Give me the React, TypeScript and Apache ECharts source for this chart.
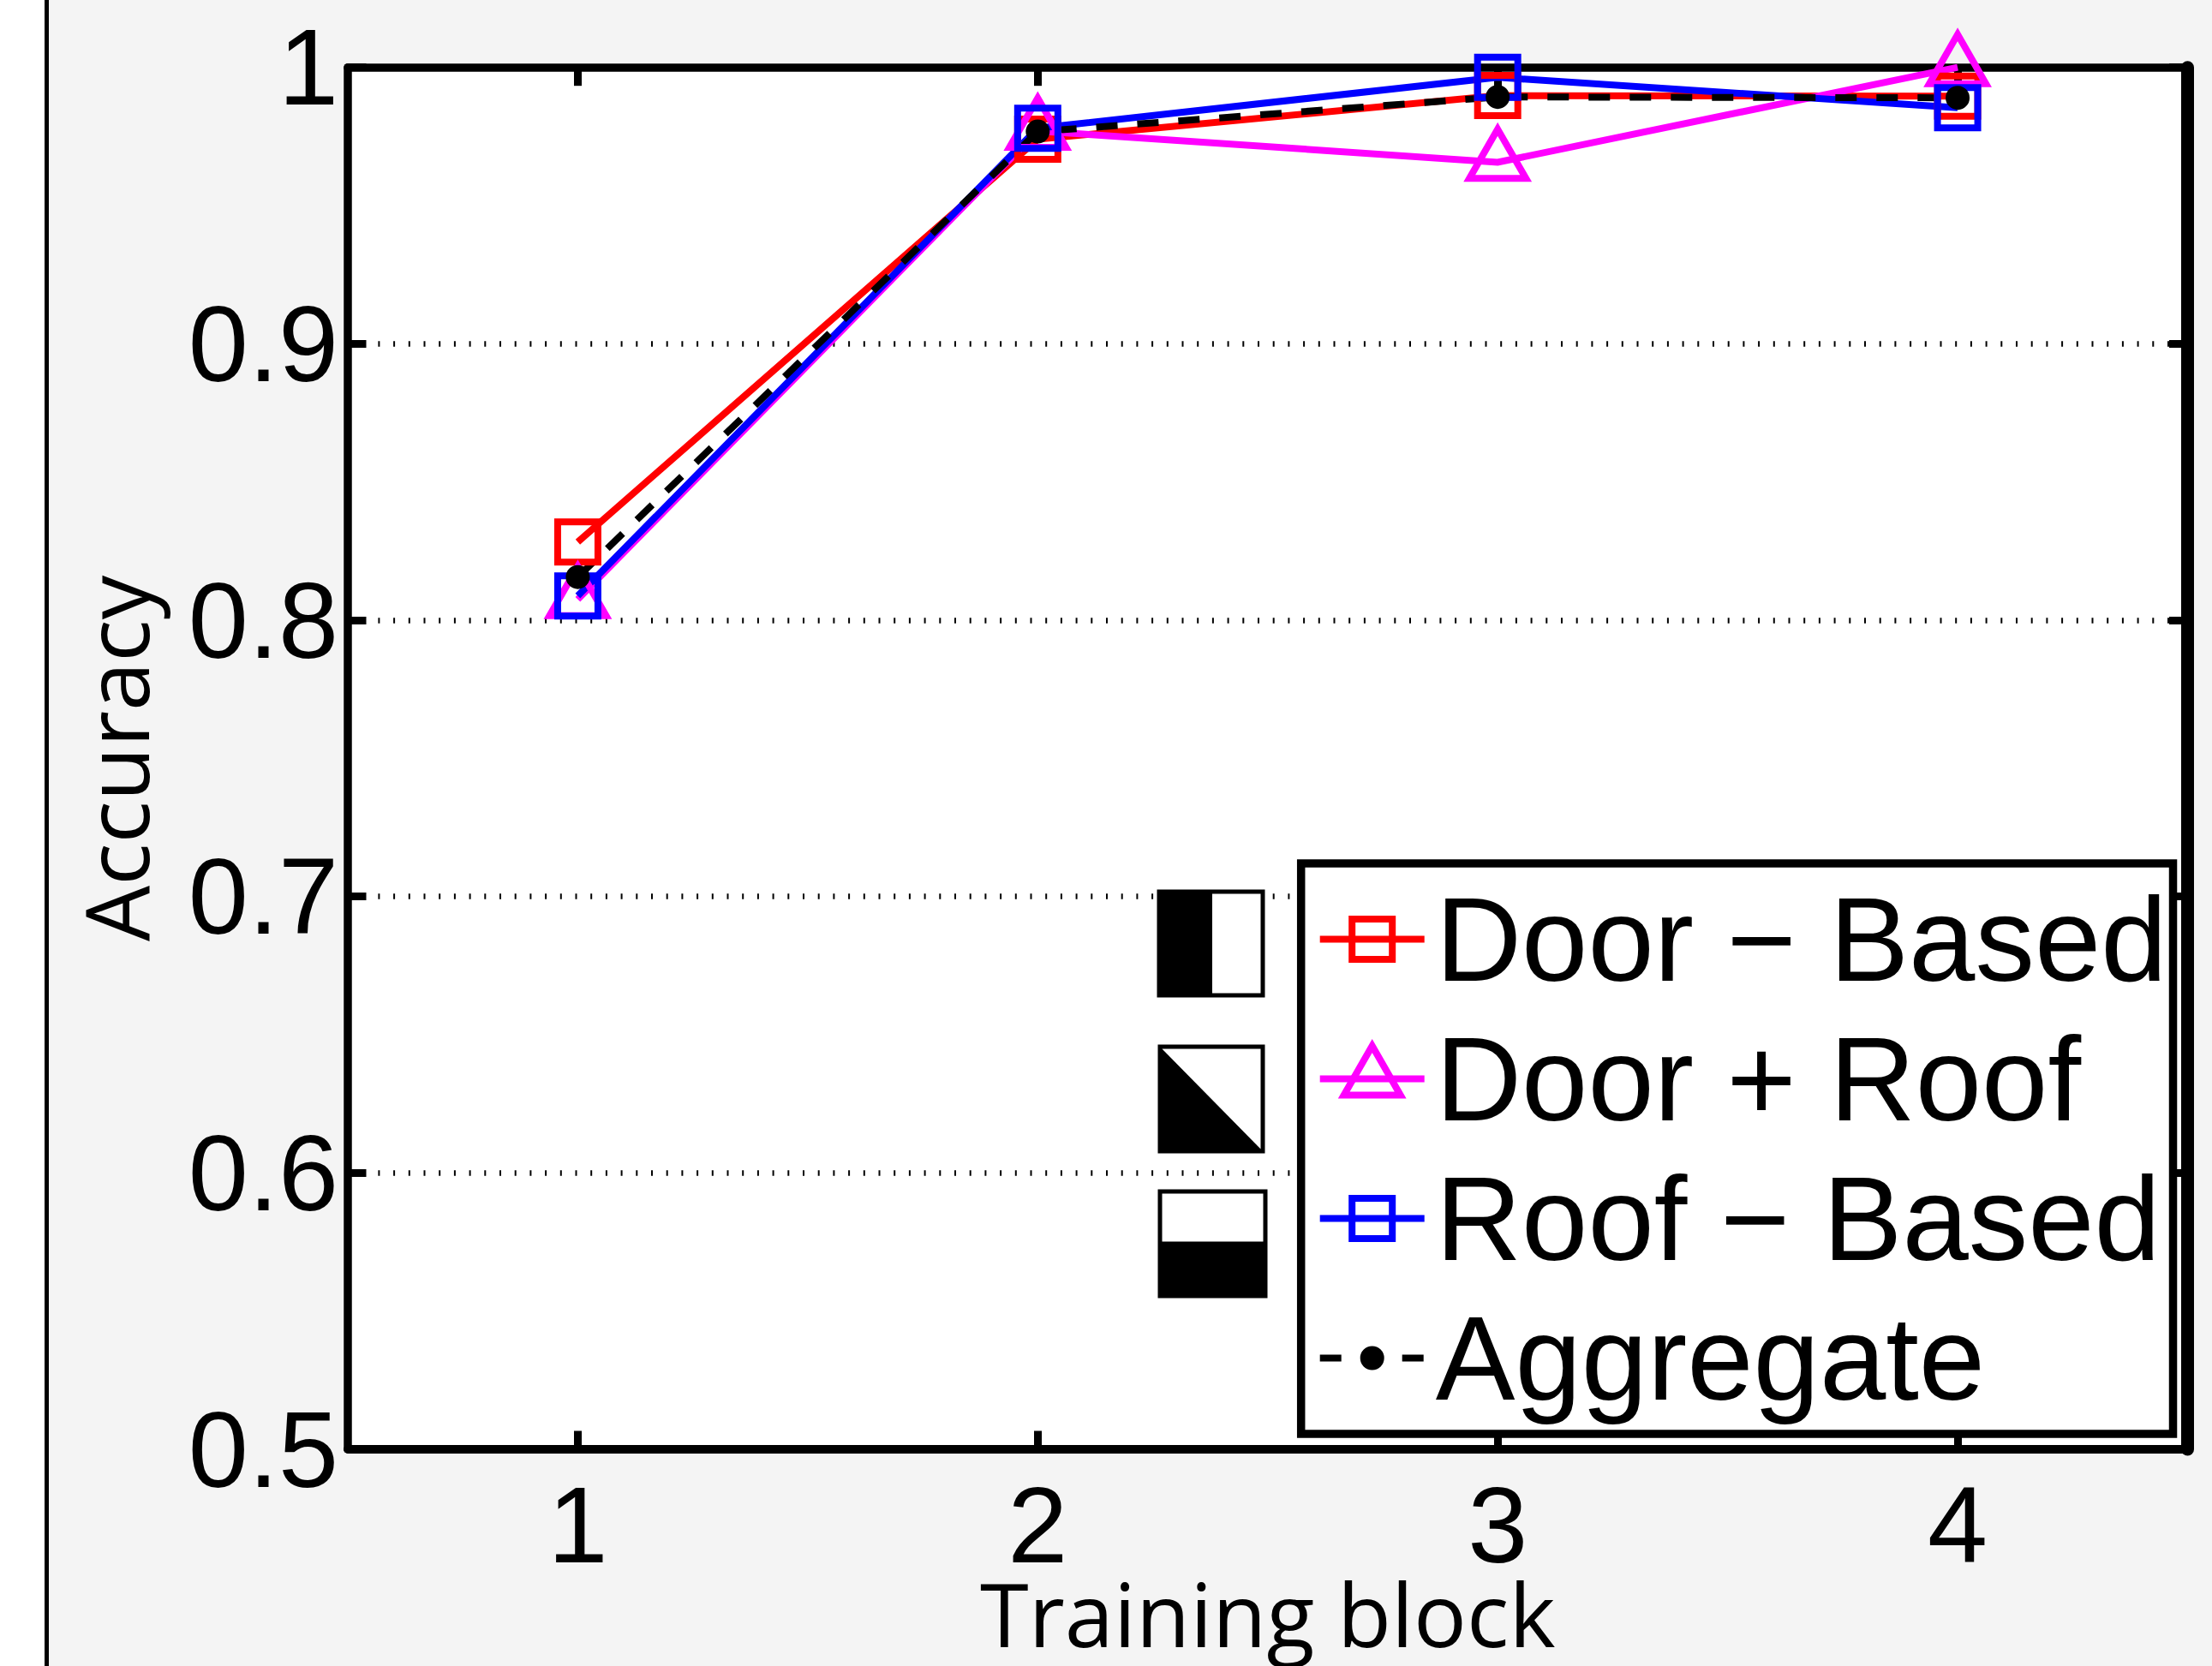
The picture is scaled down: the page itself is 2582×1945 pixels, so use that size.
import React, { useEffect, useRef } from "react";
import * as echarts from "echarts";

const blocks = ["1", "2", "3", "4"];
const doorBased = [0.8283, 0.974, 0.9898, 0.9896];
const doorRoof = [0.8075, 0.977, 0.9657, 1.0];
const roofBased = [0.8088, 0.978, 0.9964, 0.9854];
const aggregate = [0.8156, 0.9768, 0.9893, 0.989];
const seriesNames = ["Door − Based", "Door + Roof", "Roof − Based", "Aggregate"];

const SQUARE = "path://M0 0M80 80M16.5 16.5H63.5V63.5H16.5Z";
const TRIANGLE = "path://M0 0M80 80M40 1.5L73 59H7Z";
const DOT = "path://M0 0M80 80M40 30A10 10 0 1 1 40 50A10 10 0 1 1 40 30Z";

const LEFT = 406;
const TOP = 78.7;
const RIGHT = 2553.5;
const BOTTOM = 1692;

function makeSeries(name: string, data: number[], color: string, symbol: string, fill: string, type: any) {
  return {
    name,
    type: "line",
    data,
    xAxisIndex: 0,
    yAxisIndex: 0,
    symbol,
    symbolSize: 80,
    showSymbol: true,
    showAllSymbol: true,
    clip: false,
    smooth: false,
    color,
    lineStyle: { color, width: 8, type, dashOffset: 0, join: "miter" },
    itemStyle: { color: fill, borderColor: color, borderWidth: 8, borderJoin: "miter", borderMiterLimit: 10, opacity: 1 },
    emphasis: { disabled: true },
  };
}

export default function App() {
  const ref = useRef<HTMLDivElement>(null);
  useEffect(() => {
    const chart = echarts.init(ref.current!, undefined, { renderer: "svg" });
    const blackBorder = { stroke: "#000", lineWidth: 5, fill: "#fff" };
    chart.setOption({
      animation: false,
      backgroundColor: "#f4f4f4",
      grid: {
        show: true,
        left: LEFT,
        top: TOP,
        width: RIGHT - LEFT,
        height: BOTTOM - TOP,
        backgroundColor: "#fff",
        borderWidth: 0,
        containLabel: false,
        outerBoundsMode: "none",
      },
      textStyle: { fontFamily: "Liberation Sans" },
      xAxis: [
        {
          type: "category",
          position: "bottom",
          data: blocks,
          z: 3,
          boundaryGap: true,
          axisLine: { show: true, onZero: false, lineStyle: { color: "#000", width: 10 } },
          axisTick: { show: true, inside: true, alignWithLabel: true, length: 21.5, lineStyle: { color: "#000", width: 9 } },
          axisLabel: { show: true, interval: 0, color: "#000", fontFamily: "Liberation Sans", fontSize: 126, lineHeight: 86, margin: 45 },
          name: "Training block",
          nameLocation: "middle",
          nameGap: 141,
          nameMoveOverlap: false,
          nameTextStyle: { color: "#000", fontFamily: "Open Sans", fontSize: 103, lineHeight: 100 },
          splitLine: { show: false },
        },
        {
          type: "category",
          position: "top",
          data: blocks,
          z: 3,
          boundaryGap: true,
          axisLine: { show: true, onZero: false, lineStyle: { color: "#000", width: 9.5 } },
          axisTick: { show: true, inside: true, alignWithLabel: true, length: 21.5, lineStyle: { color: "#000", width: 9 } },
          axisLabel: { show: false },
          splitLine: { show: false },
        },
      ],
      yAxis: [
        {
          type: "value",
          position: "left",
          min: 0.5,
          max: 1,
          interval: 0.1,
          z: 3,
          axisLine: { show: true, onZero: false, lineStyle: { color: "#000", width: 9.5 } },
          axisTick: { show: true, inside: true, length: 21.5, lineStyle: { color: "#000", width: 9 } },
          axisLabel: { show: true, color: "#000", fontFamily: "Liberation Sans", fontSize: 126, margin: 11, padding: [7, 0, 0, 0] },
          name: "Accuracy",
          nameLocation: "middle",
          nameRotate: 90,
          nameGap: 221,
          nameMoveOverlap: false,
          nameTextStyle: { color: "#000", fontFamily: "Open Sans", fontSize: 103 },
          splitLine: {
            show: true,
            showMinLine: false,
            showMaxLine: false,
            lineStyle: { color: "#000", width: 6.5, type: [2, 15.7], dashOffset: 0 },
          },
        },
        {
          type: "value",
          position: "right",
          min: 0.5,
          max: 1,
          interval: 0.1,
          z: 3,
          axisLine: { show: true, onZero: false, lineStyle: { color: "#000", width: 15 } },
          axisTick: { show: true, inside: true, length: 21.5, lineStyle: { color: "#000", width: 9 } },
          axisLabel: { show: false },
          splitLine: { show: false },
        },
      ],
      legend: {
        show: true,
        orient: "vertical",
        left: 1518.7,
        top: 1008,
        z: 6,
        selectedMode: false,
        backgroundColor: "#fff",
        borderColor: "#000",
        borderWidth: 9.5,
        borderRadius: 0,
        padding: [19, 7, 19, 18],
        itemWidth: 122,
        itemHeight: 100,
        itemGap: 24,
        lineStyle: { width: 8 },
        textStyle: { color: "#000", fontFamily: "Liberation Sans", fontSize: 139, lineHeight: 100, padding: [0, 0, 0, 8] },
        data: [
          { name: seriesNames[0], itemStyle: { color: "transparent", borderColor: "#ff0000", borderWidth: 8, borderJoin: "miter" } },
          { name: seriesNames[1], itemStyle: { color: "transparent", borderColor: "#ff00ff", borderWidth: 8, borderJoin: "miter", borderMiterLimit: 10 } },
          { name: seriesNames[2], itemStyle: { color: "transparent", borderColor: "#0000ff", borderWidth: 8, borderJoin: "miter" } },
          { name: seriesNames[3], itemStyle: { color: "#000", borderColor: "#000", borderWidth: 8 } },
        ],
      },
      graphic: [
        { type: "rect", z: -10, silent: true, shape: { x: 0, y: 0, width: 52, height: 1945 }, style: { fill: "#fff" } },
        { type: "rect", z: -9, silent: true, shape: { x: 52, y: 0, width: 5, height: 1945 }, style: { fill: "#000" } },
        // first icon: left half black
        { type: "rect", z: 4, silent: true, shape: { x: 1353, y: 1041, width: 121, height: 121 }, style: blackBorder },
        { type: "rect", z: 5, silent: true, shape: { x: 1351, y: 1039, width: 64, height: 125 }, style: { fill: "#000" } },
        // second icon: lower-left triangle black
        { type: "rect", z: 4, silent: true, shape: { x: 1354, y: 1222, width: 120, height: 122 }, style: blackBorder },
        { type: "polygon", z: 5, silent: true, shape: { points: [[1352, 1220], [1476, 1346], [1352, 1346]] }, style: { fill: "#000" } },
        // third icon: lower half black
        { type: "rect", z: 4, silent: true, shape: { x: 1354, y: 1391, width: 123, height: 122 }, style: blackBorder },
        { type: "rect", z: 5, silent: true, shape: { x: 1352, y: 1449.5, width: 127, height: 65.5 }, style: { fill: "#000" } },
      ],
      series: [
        makeSeries(seriesNames[0], doorBased, "#ff0000", SQUARE, "transparent", "solid"),
        makeSeries(seriesNames[1], doorRoof, "#ff00ff", TRIANGLE, "transparent", "solid"),
        makeSeries(seriesNames[2], roofBased, "#0000ff", SQUARE, "transparent", "solid"),
        makeSeries(seriesNames[3], aggregate, "#000", DOT, "#000", [25, 23]),
      ],
    });
    return () => chart.dispose();
  }, []);
  return <div ref={ref} style={{ position: "absolute", left: 0, top: 0, width: 2582, height: 1945 }} />;
}
